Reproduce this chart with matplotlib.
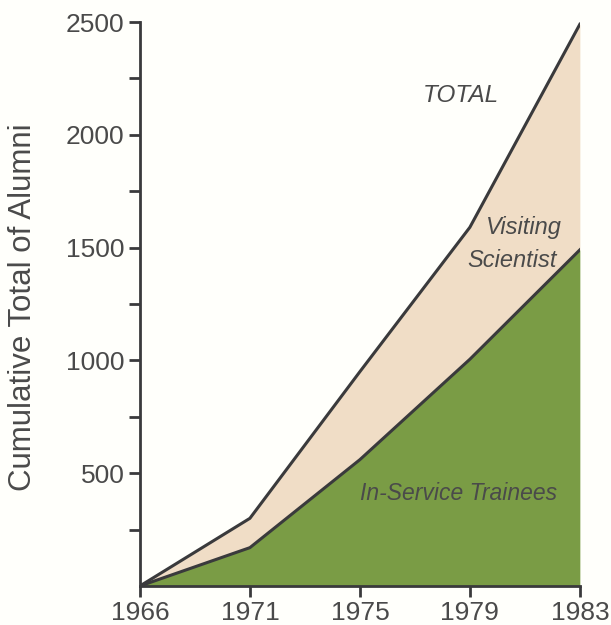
import numpy as np
import matplotlib.pyplot as plt

years = ["1966", "1971", "1975", "1979", "1983"]
total = [0, 300, 950, 1590, 2490]      # total alumni
trainees = [0, 170, 560, 1005, 1490]   # in-service trainees

plt.rcParams['font.family'] = ['Liberation Sans', 'DejaVu Sans']

green = "#7a9c45"
beige = "#f0ddc6"
ink = "#3a3a3c"
txt = "#4a4a4a"

fig = plt.figure(figsize=(6.11, 6.25), dpi=100)
fig.patch.set_facecolor("#fffffb")
ax = fig.add_axes([0.229, 0.0624, 0.720, 0.9024])
ax.set_facecolor("none")

x = np.arange(len(years))
ax.fill_between(x, trainees, total, color=beige, lw=0)
ax.fill_between(x, 0, trainees, color=green, lw=0)
ax.plot(x, total, color=ink, lw=2.2, solid_joinstyle="miter")
ax.plot(x, trainees, color=ink, lw=2.2, solid_joinstyle="miter")

ax.set_xlim(0, 4)
ax.set_ylim(0, 2500)
ax.set_xticks(x)
ax.set_xticklabels(years)
ax.set_yticks([500, 1000, 1500, 2000, 2500])
ax.set_yticks(np.arange(250, 2500, 500), minor=True)

for s in ["top", "right"]:
    ax.spines[s].set_visible(False)
for s in ["left", "bottom"]:
    ax.spines[s].set_color(ink)
    ax.spines[s].set_linewidth(2)

ax.tick_params(axis="both", which="both", direction="out", length=8, width=2,
               color=ink, labelcolor=txt, labelsize=19, pad=3)

ax.set_ylabel("Cumulative Total of Alumni", fontsize=22.5, color=txt)
ax.yaxis.set_label_coords(-0.232, 0.495)

ax.text(2.57, 2176, "TOTAL", fontsize=17.5, style="italic", color=txt, ha="left", va="center")
ax.text(3.84, 1587, "Visiting", fontsize=17, style="italic", color=txt, ha="right", va="center")
ax.text(3.79, 1445, "Scientist", fontsize=17, style="italic", color=txt, ha="right", va="center")
ax.text(2.9, 412, "In-Service Trainees", fontsize=16.5, style="italic", color=txt, ha="center", va="center")

plt.savefig("out.png", dpi=100, facecolor=fig.get_facecolor())
